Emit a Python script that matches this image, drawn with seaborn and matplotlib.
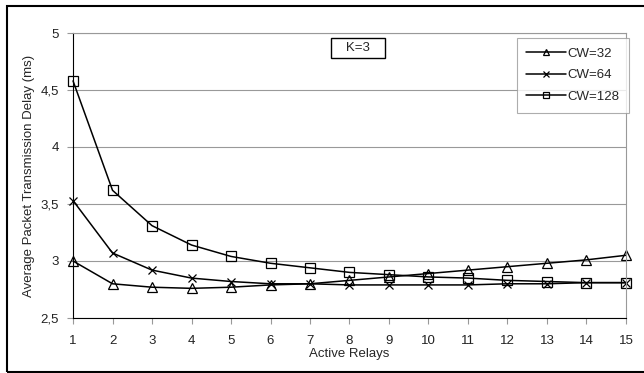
import matplotlib
matplotlib.use("Agg")
import matplotlib.pyplot as plt
import matplotlib.ticker as mticker
import pandas as pd
import seaborn as sns

relays = list(range(1, 16))
cw32 = [3.00, 2.80, 2.77, 2.76, 2.77, 2.79, 2.80, 2.83, 2.86, 2.89, 2.92, 2.95, 2.98, 3.01, 3.05]
cw64 = [3.53, 3.07, 2.92, 2.85, 2.82, 2.80, 2.80, 2.79, 2.79, 2.79, 2.79, 2.80, 2.80, 2.81, 2.81]
cw128 = [4.58, 3.62, 3.31, 3.14, 3.04, 2.98, 2.94, 2.90, 2.88, 2.86, 2.85, 2.83, 2.82, 2.81, 2.81]
series = ["CW=32", "CW=64", "CW=128"]
markers = ["^", "x", "s"]

df = pd.DataFrame({"relays": relays, "CW=32": cw32, "CW=64": cw64, "CW=128": cw128})
df = df.melt("relays", var_name="CW", value_name="delay")

sns.set_style("white")
plt.rcParams["font.family"] = ["Liberation Sans", "DejaVu Sans"]

fig = plt.figure(figsize=(6.44, 3.73), dpi=100)
ax = fig.add_axes([0.1134, 0.1475, 0.8586, 0.764])

for name, mk in zip(series, markers):
    sns.lineplot(
        data=df[df["CW"] == name], x="relays", y="delay", label=name,
        marker=mk, color="black", linewidth=1.1, markersize=6.5 if mk != "x" else 6,
        markerfacecolor="none" if mk != "x" else "black",
        markeredgecolor="black", markeredgewidth=0.9, ax=ax, clip_on=False,
    )

ax.set_xlim(1, 15)
ax.set_ylim(2.5, 5)
ax.set_xticks(relays)
ax.set_yticks([2.5, 3, 3.5, 4, 4.5, 5])
ax.yaxis.set_major_formatter(mticker.FuncFormatter(lambda v, p: f"{v:g}".replace(".", ",")))
ax.grid(axis="y", color="#999999", linewidth=0.8)
ax.set_axisbelow(True)
for side in ["top", "right"]:
    ax.spines[side].set_color("#999999")
for side in ["left", "bottom"]:
    ax.spines[side].set_color("black")
ax.tick_params(axis="both", direction="out", length=4, width=0.8, color="#999999",
               labelsize=9.5, labelcolor="#222222", left=True, bottom=True)
ax.tick_params(axis="x", pad=8)
ax.tick_params(axis="y", pad=6)
ax.set_xlabel("Active Relays", fontsize=9.5, labelpad=1)
ax.set_ylabel("Average Packet Transmission Delay (ms)", fontsize=9.5, labelpad=4)

leg = ax.legend(loc="upper right", bbox_to_anchor=(1.006, 0.983), frameon=True,
                fancybox=False, edgecolor="#999999", fontsize=9.5, handlelength=3.0,
                handletextpad=0.1, borderpad=0.75, labelspacing=0.7, markerscale=0.75,
                borderaxespad=0)
leg.get_frame().set_linewidth(0.8)

ax.text(0.515, 0.947, "   K=3   ", transform=ax.transAxes, ha="center", va="center",
        fontsize=9.5,
        bbox=dict(boxstyle="square,pad=0.3", facecolor="white", edgecolor="black", linewidth=1.0))

fig.patches.append(plt.Rectangle((0.011, 0.004), 1.0, 0.98, transform=fig.transFigure,
                                 fill=False, edgecolor="black", linewidth=1.5))

fig.savefig("out.png", dpi=100)
